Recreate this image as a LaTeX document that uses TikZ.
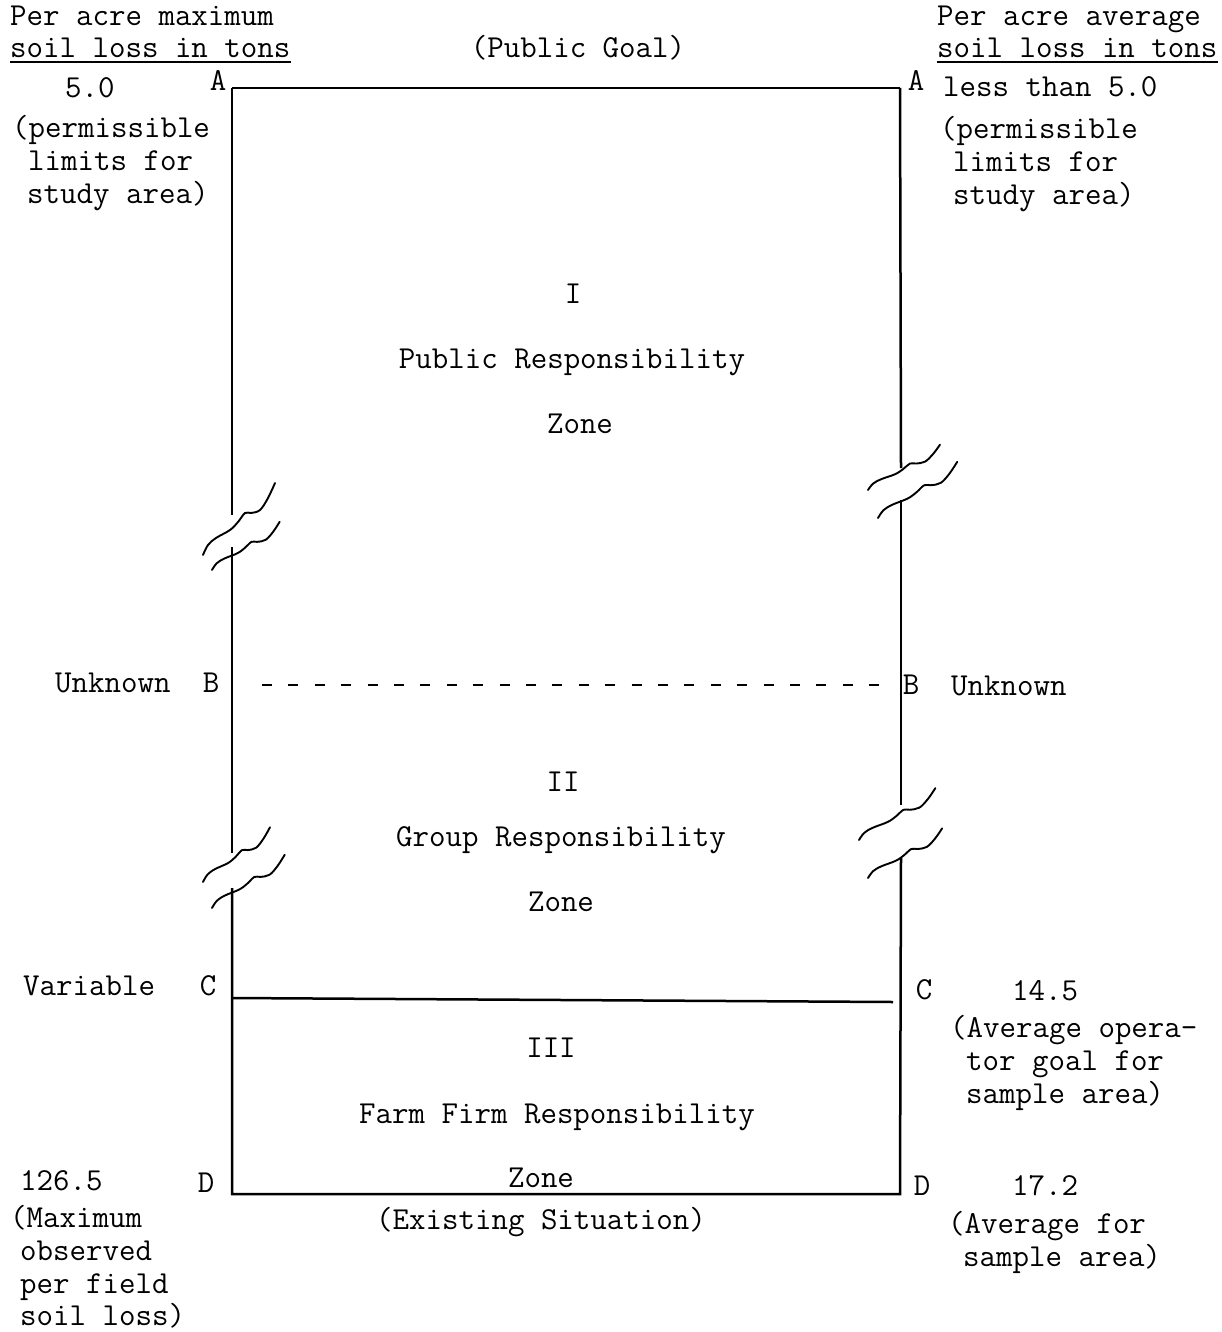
\documentclass[tikz,border=0pt]{standalone}
\begin{document}
\begin{tikzpicture}[x=1pt,y=-1pt,
  txt/.style={font=\ttfamily\fontsize{32}{34}\selectfont, inner sep=0pt, text height=20pt, text depth=6pt},
  lt/.style={txt, anchor=west},
  ct/.style={txt, anchor=center},
  frame/.style={line width=2.5pt},
  wavy/.style={line width=1.9pt, line cap=round},
  wave/.pic={\draw[wavy] plot[smooth, tension=0.6] coordinates {(0,0) (5,-10) (13,-17) (27,-25) (35,-33) (42,-42) (48,-42) (57,-45) (65,-57) (72,-72)};}
]
\useasboundingbox (0,0) rectangle (1221,1332);
\fill[white] (0,0) rectangle (1221,1332);

% frame coordinates
\coordinate (LA) at (232,88);  \coordinate (RA) at (900,88);
\coordinate (LD) at (232,1194); \coordinate (RD) at (900,1194);
\coordinate (LB) at (262,685); \coordinate (RB) at (895,685);
\coordinate (LC) at (232,998); \coordinate (RC) at (893,1002);
\coordinate (L1a) at (232,515); \coordinate (L1b) at (232,547);
\coordinate (L2a) at (232,853); \coordinate (L2b) at (232,888);
\coordinate (R1a) at (901,468); \coordinate (R1b) at (901,500);
\coordinate (R2a) at (901,805); \coordinate (R2b) at (901,858);

% frame lines
\draw[frame] (LA) -- (RA);
\draw[frame] (LA) -- (L1a);
\draw[frame] (L1b) -- (L2a);
\draw[frame] (L2b) -- (LD) -- (RD) -- (R2b);
\draw[frame] (R2a) -- (R1b);
\draw[frame] (R1a) -- (RA);
\draw[frame] (LC) -- (RC);
\draw[line width=2pt, dash pattern=on 10pt off 16.4pt] (LB) -- (RB);

% break marks
\pic[shift={(203,555)}, xscale=1, yscale=1] {wave};
\pic[shift={(212,570)}, xscale=0.94, yscale=0.67] {wave};
\pic[shift={(868,490)}, xscale=1, yscale=0.63] {wave};
\pic[shift={(878,518)}, xscale=1.1, yscale=0.78] {wave};
\pic[shift={(203,882)}, xscale=0.93, yscale=0.76] {wave};
\pic[shift={(212,908)}, xscale=1.01, yscale=0.74] {wave};
\pic[shift={(859,840)}, xscale=1.06, yscale=0.72] {wave};
\pic[shift={(868,878)}, xscale=1.03, yscale=0.69] {wave};

% letters
\node[ct] (a1) at (218,84) {A};
\node[ct] (a2) at (916,84) {A};
\node[ct] (b1) at (211,685) {B};
\node[ct] (b2) at (911,687) {B};
\node[ct] (c1) at (208,988) {C};
\node[ct] (c2) at (924,992) {C};
\node[ct] (d1) at (206,1185) {D};
\node[ct] (d2) at (922,1188) {D};

% headers
\node[lt] (h1) at (10,19) {Per acre maximum};
\node[lt] (h2) at (10,51) {soil loss in tons};
\draw[line width=1.8pt] (h2.south west) ++(0,-2) coordinate (u1a) -- (h2.south east |- u1a);
\node[lt] (h3) at (937,19) {Per acre average};
\node[lt] (h4) at (937,51) {soil loss in tons};
\draw[line width=1.8pt] (h4.south west) ++(0,-2) coordinate (u2a) -- (h4.south east |- u2a);
\node[ct] (pg) at (578,51) {(Public Goal)};

% left column
\node[lt] (l1) at (65,91) {5.0};
\node[lt] (l2) at (12,131) {(permissible};
\node[lt] (l3) at (28,164) {limits for};
\node[lt] (l4) at (27,197) {study area)};
\node[lt] (l5) at (55,685) {Unknown};
\node[lt] (l6) at (23,988) {Variable};
\node[lt] (l7) at (20,1183) {126.5};
\node[lt] (l8) at (10,1220) {(Maximum};
\node[lt] (l9) at (20,1253) {observed};
\node[lt] (l10) at (20,1286) {per field};
\node[lt] (l11) at (20,1318) {soil loss)};

% right column
\node[lt] (r1) at (943,90) {less than 5.0};
\node[lt] (r2) at (940,132) {(permissible};
\node[lt] (r3) at (953,165) {limits for};
\node[lt] (r4) at (953,198) {study area)};
\node[lt] (r5) at (951,688) {Unknown};
\node[lt] (r6) at (1012,993) {14.5};
\node[lt] (r7) at (950,1030) {(Average opera-};
\node[lt] (r8) at (966,1063) {tor goal for};
\node[lt] (r9) at (966,1096) {sample area)};
\node[lt] (r10) at (1012,1188) {17.2};
\node[lt] (r11) at (948,1226) {(Average for};
\node[lt] (r12) at (963,1259) {sample area)};

% zone texts
\node[ct] (z1a) at (573,296) {I};
\node[ct] (z1b) at (572,361) {Public Responsibility};
\node[ct] (z1c) at (580,426) {Zone};
\node[ct] (z2a) at (563,784) {II};
\node[ct] (z2b) at (561,839) {Group Responsibility};
\node[ct] (z2c) at (561,904) {Zone};
\node[ct] (z3a) at (551,1050) {III};
\node[ct] (z3b) at (557,1116) {Farm Firm Responsibility};
\node[ct] (z3c) at (541,1180) {Zone};
\node[ct] (es) at (541,1222) {(Existing Situation)};
\end{tikzpicture}
\end{document}
